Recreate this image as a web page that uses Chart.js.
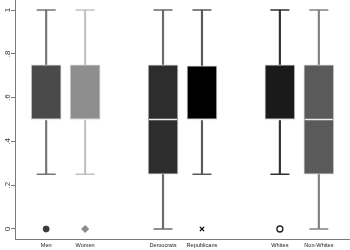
<!DOCTYPE html>
<html lang="en">
<head>
    <meta charset="UTF-8" />
    <title>Box Plot</title>
    <script src="https://cdn.jsdelivr.net/npm/chart.js"></script>
    <style>
        html, body { margin: 0; padding: 0; background: #fff; }
        #wrap { width: 350px; height: 250px; position: relative; }
    </style>
</head>
<body>
    <div id="wrap"><canvas id="boxChart"></canvas></div>

    <script>
        // slots with '' are the gaps between groups
        const categories = ['Men', 'Women', '', 'Democrats', 'Republicans', '', 'Whites', 'Non-Whites'];
        const whiskerLow = [0.25, 0.25, null, 0, 0.25, null, 0.25, 0];
        const quartile1 = [0.5, 0.5, null, 0.25, 0.5, null, 0.5, 0.25];
        const medians = [0.5, 0.5, null, 0.5, 0.5, null, 0.5, 0.5];
        const quartile3 = [0.75, 0.75, null, 0.75, 0.745, null, 0.75, 0.75];
        const whiskerHigh = [1, 1, null, 1, 1, null, 1, 1];
        const outliers = [0, 0, null, null, 0, null, 0, null];

        const yTickValues = [0, 0.2, 0.4, 0.6, 0.8, 1];
        const yTickLabels = ['0', '.2', '.4', '.6', '.8', '1'];

        const boxColors = ['#4a4a4a', '#8e8e8e', null, '#2d2d2d', '#000000', null, '#1a1a1a', '#5a5a5a'];
        const whiskerColors = ['#747474', '#c2c2c2', null, '#6a6a6a', '#5a5a5a', null, '#303030', '#808080'];
        const outlierShapes = ['circle', 'rectRot', null, null, 'crossRot', null, 'circle', null];
        const outlierFills = ['#3c3c3c', '#8a8a8a', null, null, '#000000', null, '#ffffff', null];
        const outlierLines = ['#3c3c3c', '#8a8a8a', null, null, '#000000', null, '#222222', null];

        const idx = categories.map((c, i) => i).filter(i => quartile1[i] !== null);
        const outIdx = idx.filter(i => outliers[i] !== null);

        const font = "'Liberation Sans', Arial, sans-serif";

        const chart = new Chart(document.getElementById('boxChart'), {
            type: 'bar',
            data: {
                datasets: [
                    {
                        label: 'whisker',
                        data: idx.map(i => ({ x: i, y: [whiskerLow[i], whiskerHigh[i]] })),
                        backgroundColor: idx.map(i => whiskerColors[i]),
                        barThickness: 1.5,
                        grouped: false,
                        order: 5
                    },
                    {
                        label: 'box',
                        data: idx.map(i => ({ x: i, y: [quartile1[i], quartile3[i]] })),
                        backgroundColor: idx.map(i => boxColors[i]),
                        borderColor: '#d4d4d4',
                        borderWidth: 1,
                        borderSkipped: false,
                        barThickness: 30,
                        grouped: false,
                        order: 4
                    },
                    {
                        type: 'line',
                        label: 'caps',
                        data: idx.flatMap(i => [{ x: i, y: whiskerLow[i] }, { x: i, y: whiskerHigh[i] }]),
                        showLine: false,
                        pointStyle: 'line',
                        pointRadius: 9.5,
                        pointBorderWidth: 1.5,
                        pointBorderColor: idx.flatMap(i => [whiskerColors[i], whiskerColors[i]]),
                        order: 3
                    },
                    {
                        type: 'line',
                        label: 'median',
                        data: idx.map(i => ({ x: i, y: medians[i] })),
                        showLine: false,
                        pointStyle: 'line',
                        pointRadius: 14,
                        pointBorderWidth: 1.5,
                        pointBorderColor: '#ececec',
                        order: 2
                    },
                    {
                        type: 'line',
                        label: 'outliers',
                        data: outIdx.map(i => ({ x: i, y: outliers[i] })),
                        showLine: false,
                        pointStyle: outIdx.map(i => outlierShapes[i]),
                        pointRadius: outIdx.map(i => outlierShapes[i] === 'rectRot' ? 3.5 : 3),
                        pointBackgroundColor: outIdx.map(i => outlierFills[i]),
                        pointBorderColor: outIdx.map(i => outlierLines[i]),
                        pointBorderWidth: outIdx.map(i => outlierFills[i] === '#ffffff' || outlierShapes[i] === 'crossRot' ? 1.3 : 1),
                        order: 1
                    }
                ]
            },
            options: {
                responsive: true,
                maintainAspectRatio: false,
                animation: false,
                layout: { padding: 0, autoPadding: false },
                plugins: {
                    legend: { display: false },
                    tooltip: { enabled: false }
                },
                scales: {
                    x: {
                        type: 'linear',
                        min: -0.8,
                        max: 7.8,
                        offset: false,
                        grid: { display: false, drawTicks: false },
                        border: { color: '#7a7a7a', width: 1 },
                        afterBuildTicks: (scale) => {
                            scale.ticks = idx.map(i => ({ value: i }));
                        },
                        afterFit: (scale) => {
                            scale.height = 11;
                            scale.paddingLeft = 0;
                            scale.paddingRight = 0;
                        },
                        ticks: {
                            autoSkip: false,
                            maxRotation: 0,
                            padding: 3,
                            color: '#222',
                            font: { family: font, size: 5.6 },
                            callback: (v) => categories[v]
                        }
                    },
                    y: {
                        min: -0.0457,
                        max: 1.0457,
                        grid: { drawOnChartArea: false, tickLength: 4, color: '#7a7a7a' },
                        border: { color: '#7a7a7a', width: 1 },
                        afterBuildTicks: (scale) => {
                            scale.ticks = yTickValues.map(v => ({ value: v }));
                        },
                        afterFit: (scale) => {
                            scale.width = 15;
                            scale.paddingTop = 0;
                            scale.paddingBottom = 0;
                        },
                        ticks: {
                            minRotation: 90,
                            maxRotation: 90,
                            crossAlign: 'center',
                            padding: 0,
                            color: '#333',
                            font: { family: font, size: 8 },
                            callback: (v) => yTickLabels[yTickValues.indexOf(v)]
                        }
                    }
                }
            }
        });
    </script>
</body>
</html>
